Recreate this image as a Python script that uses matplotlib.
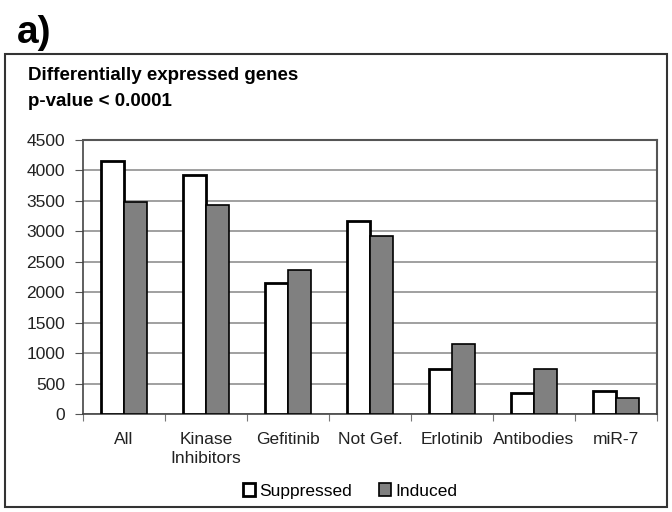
import matplotlib.pyplot as plt
import numpy as np
from matplotlib.patches import Rectangle

plt.rcParams['font.family'] = ['Liberation Sans', 'DejaVu Sans']

categories = ['All', 'Kinase\nInhibitors', 'Gefitinib', 'Not Gef.', 'Erlotinib', 'Antibodies', 'miR-7']
suppressed = [4150, 3920, 2150, 3170, 740, 350, 380]
induced = [3480, 3430, 2360, 2920, 1150, 745, 270]
yticks = np.arange(0, 4501, 500)

fig = plt.figure(figsize=(6.72, 5.12), dpi=100)

# outer frame
fig.patches.append(Rectangle((5/672, 5/512), 662/672, 453/512, transform=fig.transFigure,
                             fill=False, edgecolor='#333333', linewidth=1.5))
fig.text(17/672, 1 - 33/512, 'a)', fontsize=28, fontweight='bold', va='center', ha='left')
fig.text(28/672, 1 - 76/512, 'Differentially expressed genes', fontsize=13.5, fontweight='bold', va='center')
fig.text(28/672, 1 - 102/512, 'p-value < 0.0001', fontsize=13.5, fontweight='bold', va='center')

ax = fig.add_axes([83/672, 98/512, 574/672, 274/512])
x = np.arange(len(categories))
w = 0.285
ax.bar(x - w/2, suppressed, w, color='white', edgecolor='black', linewidth=2, label='Suppressed', zorder=3)
ax.bar(x + w/2, induced, w, color='#808080', edgecolor='black', linewidth=1.2, label='Induced', zorder=3)

ax.set_xlim(-0.5, len(categories) - 0.5)
ax.set_ylim(0, 4500)
ax.set_yticks(yticks)
ax.yaxis.grid(True, color='#a0a0a0', linewidth=1.4, zorder=0)
ax.set_axisbelow(True)
ax.set_xticks(np.arange(len(categories) + 1) - 0.5, minor=False)
ax.set_xticklabels([])
ax.set_xticks(x, minor=True)
ax.set_xticklabels(categories, minor=True, fontsize=12.5, color='#222222', va='top', linespacing=1.3)
ax.tick_params(axis='x', which='major', length=5, color='#777777', direction='out')
ax.tick_params(axis='x', which='minor', length=0, pad=13)
ax.tick_params(axis='y', length=6, pad=7, color='#555555', labelsize=12.5, labelcolor='#222222')
for s in ['left', 'bottom']:
    ax.spines[s].set_color('#444444')
    ax.spines[s].set_linewidth(1.2)
for s in ['top', 'right']:
    ax.spines[s].set_color('#555555')
    ax.spines[s].set_linewidth(1.5)

fig.legend(loc='center', bbox_to_anchor=(350/672, 1 - 491/512), ncol=2, frameon=False,
           fontsize=12.5, handlelength=0.7, handleheight=0.7, handletextpad=0.2, columnspacing=1.6)

plt.savefig('out.png', dpi=100)
plt.close()
